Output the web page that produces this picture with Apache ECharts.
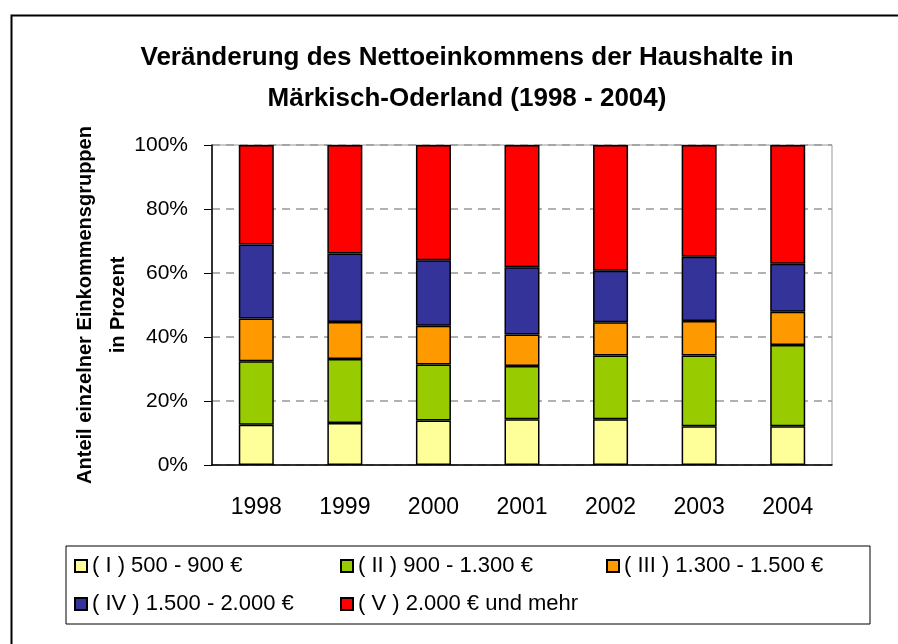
<!DOCTYPE html>
<html lang="de">
<head>
    <meta charset="UTF-8">
    <title>Nettoeinkommen Märkisch-Oderland</title>
    <style>
        * { margin: 0; padding: 0; box-sizing: border-box; }
        html, body { width: 100%; height: 100%; background: #fff; }
        #box { width: 898px; height: 644px; }
    </style>
    <script src="https://cdn.jsdelivr.net/npm/echarts@6/dist/echarts.min.js"></script>
</head>
<body>
    <div id="box"></div>
    <script>
        // Jahre
        var years = ['1998', '1999', '2000', '2001', '2002', '2003', '2004'];
        // Einkommensgruppen (Anteile in %)
        var g1 = [12.6, 13.1, 13.9, 14.3, 14.3, 12.1, 12.1];
        var g2 = [19.8, 20.0, 17.5, 16.6, 19.9, 22.1, 25.4];
        var g3 = [13.4, 11.6, 12.1, 9.9, 10.4, 10.8, 10.4];
        var g4 = [23.1, 21.4, 20.5, 21.0, 16.1, 20.1, 15.0];
        var g5 = [31.1, 33.9, 36.0, 38.2, 39.3, 34.9, 37.1];
        var groupNames = ['( I ) 500 - 900 €', '( II ) 900 - 1.300 €', '( III ) 1.300 - 1.500 €',
            '( IV ) 1.500 - 2.000 €', '( V ) 2.000 € und mehr'];
        var groupColors = ['#ffff99', '#99cc00', '#ff9900', '#333399', '#ff0000'];
        var yTicks = [0, 20, 40, 60, 80, 100];

        var font = "'Liberation Sans', Arial, sans-serif";

        var myChart = echarts.init(document.getElementById('box'));

        var series = [g1, g2, g3, g4, g5].map(function (vals, i) {
            return {
                name: groupNames[i],
                type: 'bar',
                stack: 'anteil',
                barWidth: 35,
                data: vals,
                itemStyle: { color: groupColors[i], borderColor: '#000', borderWidth: 1.5 }
            };
        });

        myChart.setOption({
            animation: false,
            title: {
                text: 'Veränderung des Nettoeinkommens der Haushalte in\nMärkisch-Oderland (1998 - 2004)',
                left: 462,
                textAlign: 'center',
                top: 32,
                textStyle: { fontFamily: font, fontWeight: 'bold', fontSize: 26, lineHeight: 41, color: '#000' }
            },
            legend: {
                left: 66,
                top: 546,
                padding: [6, 8, 6, 8],
                borderColor: '#000',
                borderWidth: 1,
                itemWidth: 12,
                itemHeight: 12,
                itemGap: 10,
                width: 800,
                icon: 'rect',
                textStyle: { fontFamily: font, fontSize: 22, color: '#000', width: 238, lineHeight: 28 },
                data: groupNames
            },
            grid: { left: 212, right: 66, top: 145, bottom: 179, show: true, borderColor: '#999', borderWidth: 1 },
            xAxis: {
                type: 'category',
                data: years,
                axisLine: { lineStyle: { color: '#000', width: 1.5 } },
                axisTick: { length: 8, lineStyle: { color: '#000' } },
                axisLabel: { fontFamily: font, fontSize: 23, color: '#000', margin: 31 }
            },
            yAxis: {
                type: 'value',
                min: yTicks[0],
                max: yTicks[yTicks.length - 1],
                interval: 20,
                name: 'Anteil einzelner Einkommensgruppen\nin Prozent',
                nameLocation: 'middle',
                nameRotate: 90,
                nameGap: 77,
                nameMoveOverlap: false,
                nameTextStyle: { fontFamily: font, fontWeight: 'bold', fontSize: 20, lineHeight: 33, color: '#000' },
                axisLine: { show: true, lineStyle: { color: '#000', width: 1.5 } },
                axisTick: { show: true, length: 8, lineStyle: { color: '#000' } },
                axisLabel: { formatter: '{value}%', fontFamily: font, fontSize: 21, color: '#000', margin: 24 },
                splitLine: { lineStyle: { color: '#999', type: [8, 6], width: 1.5 } }
            },
            graphic: [{
                type: 'rect',
                left: 9,
                top: 13,
                shape: { width: 1000, height: 1000 },
                style: { fill: 'none', stroke: '#000', lineWidth: 2 },
                silent: true
            }],
            series: series
        });

        window.onresize = function () {
            myChart.resize();
        };
    </script>
</body>
</html>
